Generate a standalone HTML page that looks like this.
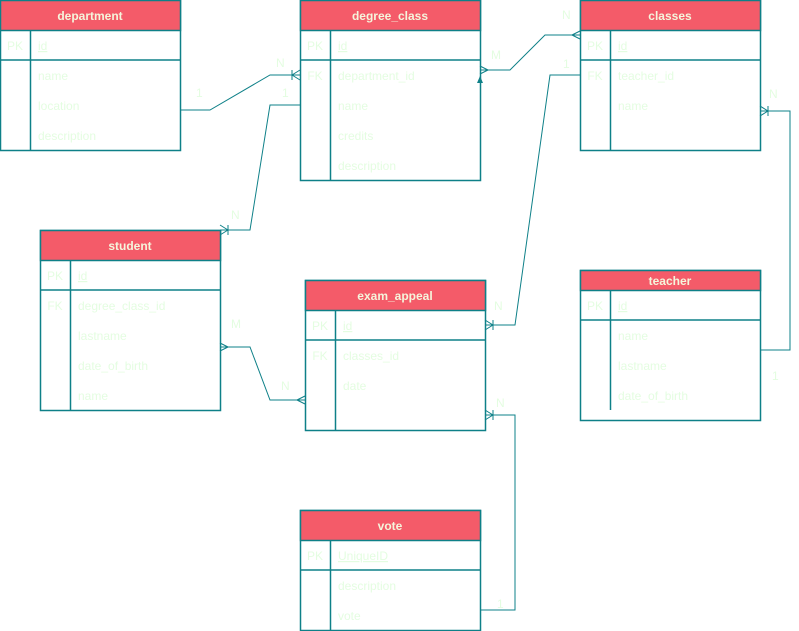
<!DOCTYPE html>
<html><head><meta charset="utf-8"><style>
html,body{margin:0;padding:0;background:#fff;}
svg{display:block;font-family:"Liberation Sans",sans-serif;}
.h{fill:#F45B69;stroke:#0E8088;stroke-width:1.5}
.b{fill:#fff;stroke:#0E8088;stroke-width:1.5}
.l{stroke:#0E8088;stroke-width:1.5;fill:none}
.ht{fill:#F5F5DC;font-weight:bold;font-size:12px;text-anchor:middle}
.t{fill:#E4FDE1;font-size:12px}
.k{fill:#E4FDE1;font-size:12px;text-anchor:middle}
.c{stroke:#0E8088;stroke-width:1;fill:none}
</style></head><body>
<svg width="799" height="631" viewBox="0 0 799 631">
<!-- department -->
<rect class="b" x="0.5" y="0.5" width="180" height="150"/>
<rect class="h" x="0.5" y="0.5" width="180" height="30"/>
<text class="ht" x="90" y="20">department</text>
<line class="l" x1="0" y1="60" x2="180" y2="60"/><line class="l" x1="30.5" y1="30" x2="30.5" y2="150"/>
<text class="k" x="15" y="50">PK</text><text class="t" x="38" y="50" text-decoration="underline">id</text>
<text class="t" x="38" y="80">name</text><text class="t" x="38" y="110">location</text><text class="t" x="38" y="140">description</text>
<!-- degree_class -->
<rect class="b" x="300.5" y="0.5" width="180" height="180"/>
<rect class="h" x="300.5" y="0.5" width="180" height="30"/>
<text class="ht" x="390" y="20">degree_class</text>
<line class="l" x1="300" y1="60" x2="480" y2="60"/><line class="l" x1="330.5" y1="30" x2="330.5" y2="180"/>
<text class="k" x="315" y="50">PK</text><text class="t" x="338" y="50" text-decoration="underline">id</text>
<text class="k" x="315" y="80">FK</text><text class="t" x="338" y="80">department_id</text>
<text class="t" x="338" y="110">name</text><text class="t" x="338" y="140">credits</text><text class="t" x="338" y="170">description</text>
<!-- classes -->
<rect class="b" x="580.5" y="0.5" width="180" height="150"/>
<rect class="h" x="580.5" y="0.5" width="180" height="30"/>
<text class="ht" x="670" y="20">classes</text>
<line class="l" x1="580" y1="60" x2="760" y2="60"/><line class="l" x1="610.5" y1="30" x2="610.5" y2="150"/>
<text class="k" x="595" y="50">PK</text><text class="t" x="618" y="50" text-decoration="underline">id</text>
<text class="k" x="595" y="80">FK</text><text class="t" x="618" y="80">teacher_id</text>
<text class="t" x="618" y="110">name</text>
<!-- student -->
<rect class="b" x="40.5" y="230.5" width="180" height="180"/>
<rect class="h" x="40.5" y="230.5" width="180" height="30"/>
<text class="ht" x="130" y="250">student</text>
<line class="l" x1="40" y1="290" x2="220" y2="290"/><line class="l" x1="70.5" y1="260" x2="70.5" y2="410"/>
<text class="k" x="55" y="280">PK</text><text class="t" x="78" y="280" text-decoration="underline">id</text>
<text class="k" x="55" y="310">FK</text><text class="t" x="78" y="310">degree_class_id</text>
<text class="t" x="78" y="340">lastname</text><text class="t" x="78" y="370">date_of_birth</text><text class="t" x="78" y="400">name</text>
<!-- exam_appeal -->
<rect class="b" x="305.5" y="280.5" width="180" height="150"/>
<rect class="h" x="305.5" y="280.5" width="180" height="30"/>
<text class="ht" x="395" y="300">exam_appeal</text>
<line class="l" x1="305" y1="340" x2="485" y2="340"/><line class="l" x1="335.5" y1="310" x2="335.5" y2="430"/>
<text class="k" x="320" y="330">PK</text><text class="t" x="343" y="330" text-decoration="underline">id</text>
<text class="k" x="320" y="360">FK</text><text class="t" x="343" y="360">classes_id</text>
<text class="t" x="343" y="390">date</text>
<!-- teacher -->
<rect class="b" x="580.5" y="270.5" width="180" height="150"/>
<rect class="h" x="580.5" y="270.5" width="180" height="20"/>
<text class="ht" x="670" y="285">teacher</text>
<line class="l" x1="580" y1="320" x2="760" y2="320"/><line class="l" x1="610.5" y1="290" x2="610.5" y2="410"/>
<text class="k" x="595" y="310">PK</text><text class="t" x="618" y="310" text-decoration="underline">id</text>
<text class="t" x="618" y="340">name</text><text class="t" x="618" y="370">lastname</text><text class="t" x="618" y="400">date_of_birth</text>
<!-- vote -->
<rect class="b" x="300.5" y="510.5" width="180" height="120"/>
<rect class="h" x="300.5" y="510.5" width="180" height="30"/>
<text class="ht" x="390" y="530">vote</text>
<line class="l" x1="300" y1="570" x2="480" y2="570"/><line class="l" x1="330.5" y1="540" x2="330.5" y2="630"/>
<text class="k" x="315" y="560">PK</text><text class="t" x="338" y="560" text-decoration="underline">UniqueID</text>
<text class="t" x="338" y="590">description</text><text class="t" x="338" y="620">vote</text>
<!-- connectors -->
<polyline class="c" points="180,110 210,110 270,75 300,75"/>
<path class="c" d="M292,75 L300,70 M292,75 L300,80 M292,70 L292,80"/>
<text class="t" x="196" y="97">1</text><text class="t" x="276" y="67">N</text>
<polyline class="c" points="300,105 270,105 250,230 220,230"/>
<path class="c" d="M228,230 L220,225 M228,230 L220,235 M228,225 L228,235"/>
<text class="t" x="282" y="97">1</text><text class="t" x="231" y="219">N</text>
<polyline class="c" points="480,70 510,70 545,35 580,35"/>
<path class="c" d="M488,70 L480,66 M488,70 L480,74 M572,35 L580,31 M572,35 L580,39"/>
<path d="M480,76 L477,83 L483,83 Z" fill="#0E8088"/>
<text class="t" x="491" y="59">M</text><text class="t" x="562" y="19">N</text>
<polyline class="c" points="580,75 550,75 515,325 485,325"/>
<path class="c" d="M493,325 L485,320 M493,325 L485,330 M493,320 L493,330"/>
<text class="t" x="563" y="68">1</text><text class="t" x="494" y="310">N</text>
<polyline class="c" points="760,350 790,350 790,111 760,111"/>
<path class="c" d="M768,111 L760,106 M768,111 L760,116 M768,106 L768,116"/>
<text class="t" x="769" y="98">N</text><text class="t" x="772" y="380">1</text>
<polyline class="c" points="220,347 250,347 270,400 305,400"/>
<path class="c" d="M228,347 L220,343 M228,347 L220,351 M297,400 L305,396 M297,400 L305,404"/>
<text class="t" x="231" y="328">M</text><text class="t" x="281" y="390">N</text>
<polyline class="c" points="480,610 515,610 515,415 485,415"/>
<path class="c" d="M493,415 L485,410 M493,415 L485,420 M493,410 L493,420"/>
<text class="t" x="496" y="407">N</text><text class="t" x="497" y="608">1</text>
</svg>
</body></html>
